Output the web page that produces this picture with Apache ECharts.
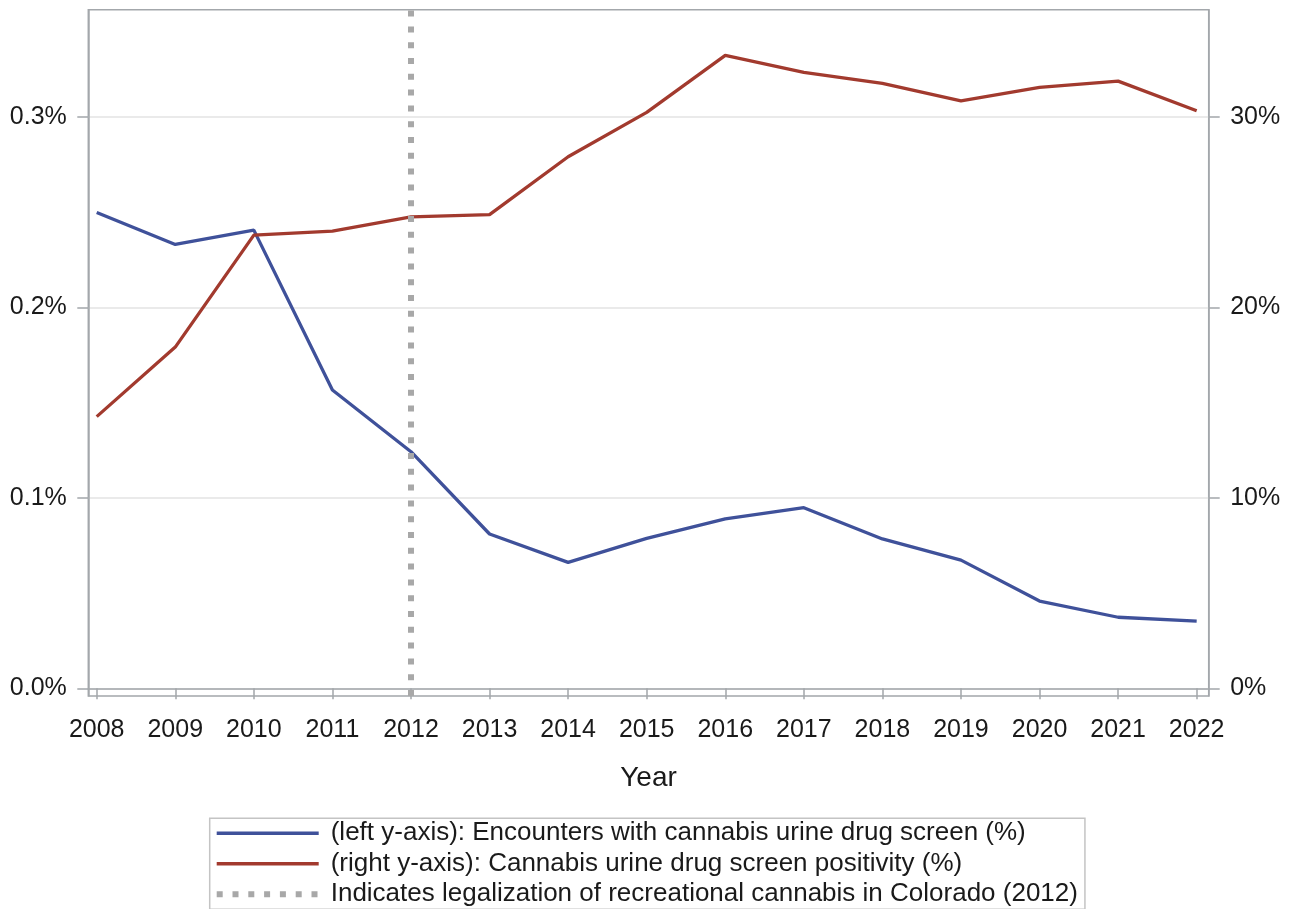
<!DOCTYPE html>
<html>
<head>
<meta charset="utf-8">
<script src="https://cdn.jsdelivr.net/npm/echarts@6/dist/echarts.min.js"></script>
<style>
  html, body { margin: 0; padding: 0; background: #ffffff; }
  #chart { width: 1291px; height: 909px; }
</style>
</head>
<body>
<div id="chart"></div>
<script>
// ---- Data ----
const years = [2008, 2009, 2010, 2011, 2012, 2013, 2014, 2015, 2016, 2017, 2018, 2019, 2020, 2021, 2022];
// left y-axis: Encounters with cannabis urine drug screen (%)
const encounters = [0.2498, 0.2330, 0.2405, 0.1566, 0.1242, 0.0810, 0.0661, 0.0787, 0.0889, 0.0948, 0.0784, 0.0673, 0.0458, 0.0373, 0.0353];
// right y-axis: Cannabis urine drug screen positivity (%)
const positivity = [14.26, 17.91, 23.79, 24.00, 24.75, 24.86, 27.90, 30.23, 33.22, 32.33, 31.75, 30.84, 31.54, 31.87, 30.32];
const legalizationYear = 2012;
const leftTicks = [0, 0.1, 0.2, 0.3];
const rightTicks = [0, 10, 20, 30];
const seriesNames = [
  '(left y-axis): Encounters with cannabis urine drug screen (%)',
  '(right y-axis): Cannabis urine drug screen positivity (%)',
  'Indicates legalization of recreational cannabis in Colorado (2012)'
];

const FONT = 'Liberation Sans, Arial, sans-serif';
const FRAME = '#a3a7ab';
const BLUE = '#3f519a';
const RED = '#a23a2e';
const GRAY = '#a8a8a8';
const DOT = [6, 9.8];

const chart = echarts.init(document.getElementById('chart'), null, { renderer: 'canvas' });

const option = {
  backgroundColor: '#ffffff',
  animation: false,
  textStyle: { fontFamily: FONT },
  grid: {
    left: 88.3, right: 82.3, top: 9.7, bottom: 213,
    show: true, borderColor: FRAME, borderWidth: 1.5, backgroundColor: 'transparent',
    containLabel: false
  },
  xAxis: {
    type: 'value',
    min: 2007.893, max: 2022.153,
    axisLine: { show: true, lineStyle: { color: FRAME, width: 1.5 } },
    axisTick: { show: true, customValues: years, length: 11, lineStyle: { color: FRAME, width: 1.5 } },
    axisLabel: {
      customValues: years, margin: 22, fontSize: 25, color: '#1a1a1a', fontFamily: FONT,
      formatter: v => String(Math.round(v))
    },
    splitLine: { show: false },
    name: 'Year', nameLocation: 'middle', nameGap: 68,
    nameTextStyle: { fontSize: 28, color: '#1a1a1a', fontFamily: FONT }
  },
  yAxis: [
    {
      type: 'value', position: 'left',
      min: -0.00404, max: 0.3562,
      axisLine: { show: true, lineStyle: { color: FRAME, width: 1.5 } },
      axisTick: { show: true, customValues: leftTicks, length: 11, lineStyle: { color: FRAME, width: 1.5 } },
      axisLabel: {
        customValues: leftTicks, margin: 21.5, fontSize: 25, color: '#1a1a1a', fontFamily: FONT,
        formatter: v => v.toFixed(1) + '%'
      },
      splitLine: { show: true, lineStyle: { color: '#e3e3e3', width: 1.5 } }
    },
    {
      type: 'value', position: 'right',
      min: -0.404, max: 35.62,
      axisLine: { show: true, lineStyle: { color: FRAME, width: 1.5 } },
      axisTick: { show: true, customValues: rightTicks, length: 11, lineStyle: { color: FRAME, width: 1.5 } },
      axisLabel: {
        customValues: rightTicks, margin: 21.5, fontSize: 25, color: '#1a1a1a', fontFamily: FONT,
        formatter: v => Math.round(v) + '%'
      },
      splitLine: { show: false }
    }
  ],
  legend: {
    orient: 'vertical',
    left: 209.7, top: 818.3,
    height: 140,
    padding: [2, 7, 2, 4],
    itemGap: 4.5,
    itemWidth: 102, itemHeight: 14,
    borderColor: '#c4c4c4', borderWidth: 1.5,
    itemStyle: { opacity: 0 },
    textStyle: { fontSize: 26, color: '#1a1a1a', fontFamily: FONT, padding: [0, 0, 0, 7] },
    data: [
      { name: seriesNames[0], itemStyle: { opacity: 0 }, lineStyle: { color: BLUE, width: 3.5 } },
      { name: seriesNames[1], itemStyle: { opacity: 0 }, lineStyle: { color: RED, width: 3.5 } },
      { name: seriesNames[2], itemStyle: { opacity: 0 }, lineStyle: { color: GRAY, width: 6, type: DOT } }
    ]
  },
  series: [
    {
      name: seriesNames[0], type: 'line', yAxisIndex: 0,
      data: years.map((y, i) => [y, encounters[i]]),
      showSymbol: false, symbol: 'none',
      lineStyle: { color: BLUE, width: 3.3 }, itemStyle: { color: BLUE },
      z: 3, silent: true
    },
    {
      name: seriesNames[1], type: 'line', yAxisIndex: 1,
      data: years.map((y, i) => [y, positivity[i]]),
      showSymbol: false, symbol: 'none',
      lineStyle: { color: RED, width: 3.3 }, itemStyle: { color: RED },
      z: 3, silent: true
    },
    {
      name: seriesNames[2], type: 'line', yAxisIndex: 0,
      data: [],
      showSymbol: false, symbol: 'none',
      lineStyle: { color: GRAY, width: 6, type: DOT }, itemStyle: { color: GRAY },
      z: 5, silent: true,
      markLine: {
        silent: true, symbol: 'none', z: 6,
        label: { show: false },
        lineStyle: { color: GRAY, width: 6, type: DOT, cap: 'butt' },
        emphasis: { disabled: true },
        data: [{ xAxis: legalizationYear }]
      }
    }
  ]
};

chart.setOption(option);
</script>
</body>
</html>
